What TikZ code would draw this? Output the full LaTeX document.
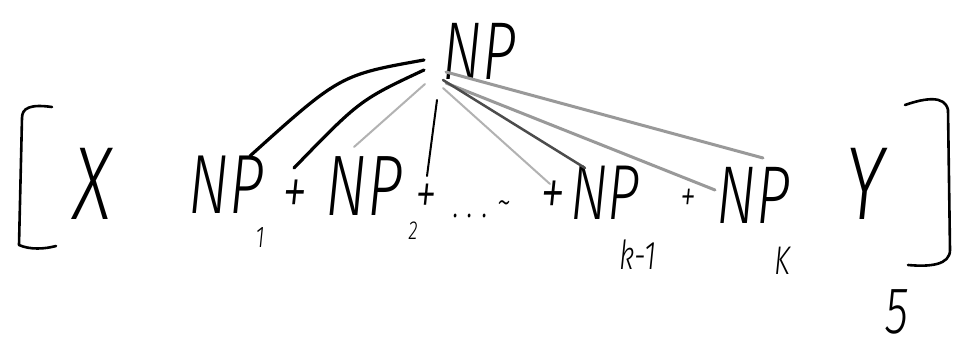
\documentclass[tikz,border=0pt]{standalone}
\usepackage{fontspec}
\usepackage{graphicx}
\setmainfont{Fira Sans Light}[ItalicFont={Fira Sans Light Italic}]
\tikzset{
  hand/.style={inner sep=0pt, font=\itshape},
  ink/.style={line width=3.2pt, black, line cap=round},
  thinink/.style={line width=2pt, black, line cap=round},
  grayink/.style={line width=3pt, black!40, line cap=round},
  lightink/.style={line width=2pt, black!30, line cap=round},
  brk/.style={line width=2.6pt, black, line cap=round, line join=round}
}
\newcommand{\hw}[2]{\scalebox{0.72}[1]{\fontsize{#1}{#1}\selectfont #2}}
\begin{document}
\begin{tikzpicture}[x=1pt,y=-1pt]
\useasboundingbox[fill=white] (0,0) rectangle (964,350);
% top node
\node[hand] (top) at (479,51) {\hw{82pt}{NP}};
% bottom row
\node[hand] (X) at (93,184) {\hw{104pt}{X}};
\node[hand] (np1) at (226,185) {\hw{84pt}{NP}};
\node[hand] (s1) at (260,238) {\hw{30pt}{1}};
\node[hand] (p1) at (295,198) {\hw{70pt}{+}};
\node[hand] (np2) at (364,186) {\hw{86pt}{NP}};
\node[hand] (s2) at (413,231) {\hw{26pt}{2}};
\node[hand] (p2) at (426,199) {\hw{60pt}{+}};
\node[hand] (dots) at (482,209) {\hw{40pt}{.\hspace{12pt}.\hspace{12pt}.\hspace{12pt}\raisebox{2pt}{\textasciitilde}}};
\node[hand] (p3) at (553,199) {\hw{70pt}{+}};
\node[hand] (npk1) at (605,193) {\hw{78pt}{NP}};
\node[hand] (sk1) at (638,255) {\hw{40pt}{k-1}};
\node[hand] (p4) at (688,200) {\hw{44pt}{+}};
\node[hand] (npk) at (753,195) {\hw{82pt}{NP}};
\node[hand] (sk) at (782,261) {\hw{40pt}{K}};
\node[hand] (Y) at (865,184) {\hw{104pt}{Y}};
\node[hand] (five) at (897,312) {\hw{66pt}{5}};
% connector end points
\coordinate (a0) at (424,60);  \coordinate (a1) at (250,156);
\coordinate (b0) at (424,70);  \coordinate (b1) at (294,168);
\coordinate (c0) at (425,84);  \coordinate (c1) at (354,147);
\coordinate (d0) at (437,100); \coordinate (d1) at (427,176);
\coordinate (e0) at (446,72);  \coordinate (e1) at (763,158);
\coordinate (f0) at (446,83);  \coordinate (f1) at (715,190);
\coordinate (g0) at (443,80);  \coordinate (g1) at (585,168);
\coordinate (h0) at (443,88);  \coordinate (h1) at (550,184);
% connectors
\draw[ink] (a0) .. controls (340,75) .. (a1);
\draw[ink] (b0) .. controls (360,100) .. (b1);
\draw[lightink] (c0) -- (c1);
\draw[thinink] (d0) -- (d1);
\draw[grayink] (e0) -- (e1);
\draw[grayink] (f0) -- (f1);
\draw[line width=2.5pt, black!70, line cap=round] (g0) -- (g1);
\draw[lightink] (h0) -- (h1);
% brackets
\draw[brk] (52,107) .. controls (30,104) and (22,108) .. (22,118) -- (19,245) .. controls (30,250) and (45,249) .. (56,246);
\draw[brk] (905,105) .. controls (925,98) and (945,95) .. (948,110) -- (950,250) .. controls (950,265) and (930,267) .. (908,265);
\end{tikzpicture}
\end{document}
